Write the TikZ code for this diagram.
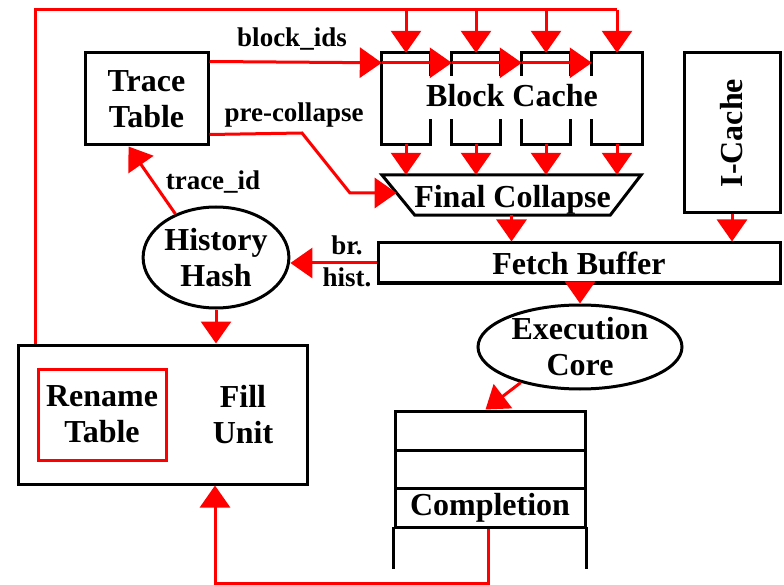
\documentclass[tikz,border=0pt]{standalone}
\usepackage{fontspec}
\setmainfont{Liberation Serif}
\usetikzlibrary{arrows.meta,shapes.geometric,calc}

\begin{document}
\begin{tikzpicture}[x=1pt,y=-1pt,
  tipshape/.tip={Triangle[length=22pt,width=30pt]},
  wire/.style={draw=red, line width=3pt, -tipshape},
  plainwire/.style={draw=red, line width=3pt},
  outline/.style={draw=black, line width=3pt, line cap=rect},
  mainfont/.style={font=\bfseries\fontsize{32}{36}\selectfont, align=center},
  box/.style={draw=black, line width=3pt, inner sep=0pt, mainfont},
  ghost/.style={draw=none, inner sep=0pt},
  lbl/.style={font=\bfseries\fontsize{27}{30}\selectfont, inner sep=0pt, anchor=base},
  ]
\useasboundingbox[fill=white] (0,0) rectangle (784,585);

% front end
\node[box, minimum width=123pt, minimum height=92pt] (tt) at (146.5,99) {Trace\\Table};

\node[ghost, minimum width=48pt, minimum height=91pt] (b1) at (406,98.5) {};
\node[ghost, minimum width=48pt, minimum height=91pt] (b2) at (476,98.5) {};
\node[ghost, minimum width=48pt, minimum height=91pt] (b3) at (546,98.5) {};
\node[ghost, minimum width=50pt, minimum height=91pt] (b4) at (617,98.5) {};
\foreach \b in {b1,b2,b3,b4}{
  \draw[outline] ($(\b.north west)+(0,22)$) -- (\b.north west) -- (\b.north east) -- ($(\b.north east)+(0,22)$);
  \draw[outline] ($(\b.south west)+(0,-24)$) -- (\b.south west) -- (\b.south east) -- ($(\b.south east)+(0,-24)$);
}
\draw[outline] (b1.north west) -- (b1.south west);
\draw[outline] (b4.north east) -- (b4.south east);
\node[mainfont, anchor=base, inner sep=0pt] (bct) at (512,107) {Block Cache};

\node[ghost, minimum width=259pt, minimum height=40pt] (fc) at (511.5,195) {};
\coordinate (fcbl) at ($(fc.south west)+(33,0)$);
\coordinate (fcbr) at ($(fc.south east)+(-31,0)$);
\draw[outline, line join=miter] (fc.north west) -- (fc.north east) -- (fcbr) -- (fcbl) -- cycle;
\node[mainfont, anchor=base, inner sep=0pt] (fct) at (512.5,208) {Final Collapse};

\node[box, minimum width=96pt, minimum height=160pt] (ic) at (732,133) {};
\node[mainfont, rotate=90, inner sep=0pt] (ict) at (ic) {I-Cache};

\node[box, minimum width=402pt, minimum height=40pt] (fb) at (579,263) {Fetch Buffer};

% back end
\node[box, ellipse, minimum width=204pt, minimum height=84pt] (ec) at (580,347) {Execution\\Core};
\node[box, ellipse, minimum width=142pt, minimum height=101pt] (hh) at (216,257.5) {History\\Hash};

\node[box, minimum width=289pt, minimum height=139pt] (fu) at (162.5,414.5) {};
\node[box, draw=red, minimum width=128pt, minimum height=91pt] (rt) at (102,414.5) {Rename\\Table};
\node[mainfont, inner sep=0pt] (fut) at (243,415) {Fill\\Unit};

\node[box, minimum width=190pt, minimum height=39pt] (r1) at (490,430.5) {};
\node[box, minimum width=190pt, minimum height=38pt] (r2) at (490,469) {};
\node[box, minimum width=190pt, minimum height=39pt] (cp) at (490,507.5) {Completion};
\draw[outline, line cap=butt] ($(cp.south west)+(0,-1.5)$) -- ++(0,41.5);
\draw[outline, line cap=butt] ($(cp.south east)+(0,-1.5)$) -- ++(0,41.5);

% trace ids fed back to every block
\coordinate (lc1) at (35,10);
\coordinate (lc2) at (617,10);
\draw[plainwire] (fu.north west -| lc1) -- (lc1) -- (lc2);
\draw[wire] (lc2) -- (b4.north);
\foreach \b in {b1,b2,b3}{
  \draw[wire] (lc2 -| \b.north) -- (\b.north);
}

% block ids
\draw[wire] ($(tt.north east)+(0,10)$) -- ($(b1.north west)+(0,10)$);
\draw[wire] ($(b1.north west)+(0,10)$) -- ($(b2.north west)+(0,10)$);
\draw[wire] ($(b2.north west)+(0,10)$) -- ($(b3.north west)+(0,10)$);
\draw[wire] ($(b3.north west)+(0,10)$) -- ($(b4.north west)+(0,10)$);
\node[lbl] (lbid) at (292,47) {block\_ids};

% pre-collapse
\coordinate (pc1) at (302,133);
\coordinate (pc2) at (350,193);
\draw[wire] ($(tt.south east)+(0,-12)$) -- (pc1) -- (pc2) -- ($(fc.north west)!0.45!(fcbl)$);
\node[lbl] (lpc) at (294,122) {pre-collapse};

\foreach \b in {b1,b2,b3,b4}{
  \draw[wire] (\b.south) -- (\b.south |- fc.north);
}
\draw[wire] (fc.south) -- (fc.south |- fb.north);
\draw[wire] (ic.south) -- (ic.south |- fb.north);
\draw[wire] (fb.south -| ec.north) -- (ec.north);

% branch history
\draw[wire] (fb.west) -- (fb.west -| hh.east);
\node[lbl] (lbr) at (347,255) {br.};
\node[lbl] (lhist) at (347,287) {hist.};

% trace id lookup
\draw[wire] (hh.133) -- ($(tt.south west)+(45,0)$);
\node[lbl] (ltid) at (213,190) {trace\_id};

\draw[wire] (hh.south) -- (hh.south |- fu.north);
\draw[wire] (ec.211) -- ($(r1.north west)+(92,0)$);

% retired instructions to the fill unit
\coordinate (cb) at (488,583);
\draw[wire] (cp.south -| cb) -- (cb) -| ($(fu.south)+(52.5,0)$);
\end{tikzpicture}
\end{document}
